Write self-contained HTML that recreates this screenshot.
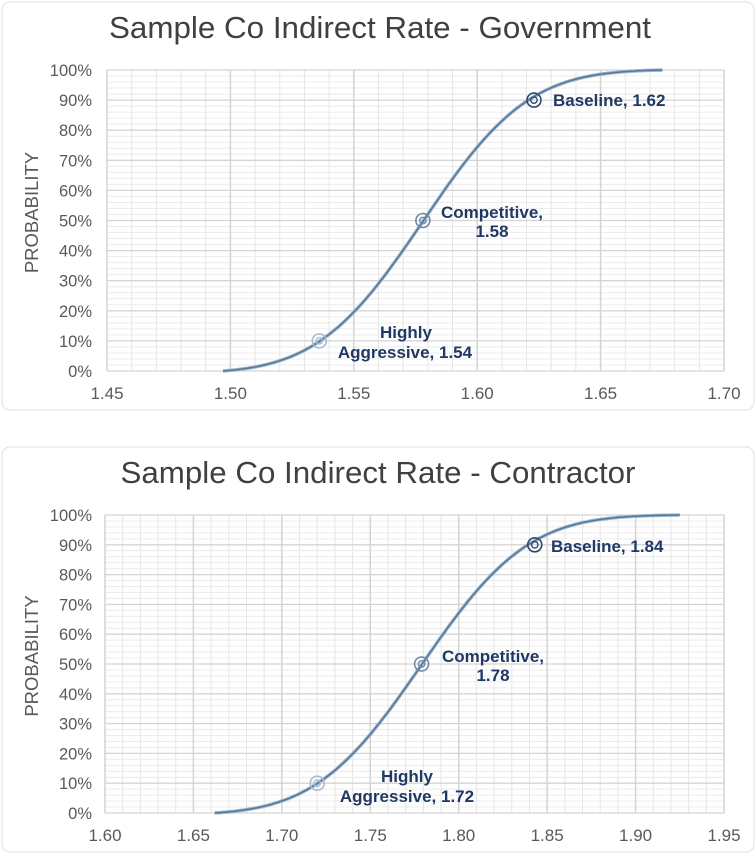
<!DOCTYPE html>
<html><head><meta charset="utf-8"><style>
body{margin:0;background:#fff;width:756px;height:856px;overflow:hidden}
svg{display:block}
text{font-family:"Liberation Sans",sans-serif}
</style></head><body>
<svg id="s" width="756" height="856" xmlns="http://www.w3.org/2000/svg"></svg>
<script>
const S=document.getElementById('s');let h='';
function erf(x){const t=1/(1+0.3275911*Math.abs(x));const y=1-(((((1.061405429*t-1.453152027)*t)+1.421413741)*t-0.284496736)*t+0.254829592)*t*Math.exp(-x*x);return x>=0?y:-y;}
function cdf(x,m,s){return 0.5*(1+erf((x-m)/(s*Math.SQRT2)));}
function chart(o){
 h+=`<rect x="${o.cx}" y="${o.cy}" width="752" height="${o.ch}" rx="8" fill="#fff" stroke="#e0e0e0"/>`;
 h+=`<text x="${o.tx}" y="${o.ty}" font-size="31" fill="#404040" text-anchor="middle" textLength="${o.tl}" lengthAdjust="spacingAndGlyphs">${o.title}</text>`;
 const X=v=>o.x0+(v-o.v0)/(o.v1-o.v0)*(o.x1-o.x0), Y=p=>o.y1-(p)*(o.y1-o.y0);
 for(let i=1;i<50;i++){if(i%5)h+=`<line x1="${o.x0}" x2="${o.x1}" y1="${Y(i/50)}" y2="${Y(i/50)}" stroke="#ececec" stroke-width="1"/>`;}
 const n=Math.round((o.v1-o.v0)/0.01);
 for(let i=1;i<n;i++){if(i%5)h+=`<line y1="${o.y0}" y2="${o.y1}" x1="${X(o.v0+i*0.01)}" x2="${X(o.v0+i*0.01)}" stroke="#e6e6e6"/>`;}
 for(let i=0;i<=10;i++){h+=`<line x1="${o.x0}" x2="${o.x1}" y1="${Y(i/10)}" y2="${Y(i/10)}" stroke="#d4d4d4" stroke-width="1.3"/>`;
  h+=`<text x="92" y="${Y(i/10)+6}" font-size="16.5" fill="#595959" text-anchor="end">${i*10}%</text>`;}
 for(let i=0;i<=n;i+=5){const v=o.v0+i*0.01;h+=`<line y1="${o.y0}" y2="${o.y1}" x1="${X(v)}" x2="${X(v)}" stroke="#d4d4d4" stroke-width="1.5"/>`;
  h+=`<text x="${X(v)}" y="${o.y1+28}" font-size="17" fill="#595959" text-anchor="middle">${v.toFixed(2)}</text>`;}
 h+=`<text transform="translate(38 ${(o.y0+o.y1)/2-8}) rotate(-90)" font-size="18.5" fill="#595959" text-anchor="middle">PROBABILITY</text>`;
 let d='';const base=cdf(o.a,o.m,o.s),top=cdf(o.b,o.m,o.s);
 for(let i=0;i<=200;i++){const v=o.a+(o.b-o.a)*i/200;const p=(cdf(v,o.m,o.s)-base)/(top-base);d+=(i?'L':'M')+X(v).toFixed(1)+' '+Y(p).toFixed(1);}
 h+=`<path d="${d}" fill="none" stroke="#9fb6cc" stroke-width="3.5"/><path d="${d}" fill="none" stroke="#55779a" stroke-width="1.5"/>`;
 o.pts.forEach(([v,p,c])=>{h+=`<circle cx="${X(v)}" cy="${Y(p)}" r="7" fill="none" stroke="${c}" stroke-width="1.6"/><circle cx="${X(v)}" cy="${Y(p)}" r="3.2" fill="none" stroke="${c}" stroke-width="1.4"/>`;});
 o.labels.forEach(([x,y,t,a])=>{h+=`<text x="${x}" y="${y}" font-size="17" font-weight="bold" fill="#1f3864" text-anchor="${a}">${t}</text>`;});
}
chart({cx:2,cy:2,ch:408,tx:380,tl:542,ty:38,title:'Sample Co Indirect Rate - Government',x0:107,x1:724,y0:70,y1:371,v0:1.45,v1:1.70,m:1.578,s:0.0335,a:1.497,b:1.675,
 pts:[[1.536,0.1,'#a9bdd2'],[1.578,0.5,'#6f8aa8'],[1.623,0.9,'#2d4a6e']],
 labels:[[553,106,'Baseline, 1.62','start'],[492,218,'Competitive,','middle'],[492,237,'1.58','middle'],[406,338,'Highly','middle'],[405,358,'Aggressive, 1.54','middle']]});
chart({cx:2,cy:447,ch:405,tx:378,tl:515,ty:483,title:'Sample Co Indirect Rate - Contractor',x0:105,x1:724,y0:515,y1:813,v0:1.60,v1:1.95,m:1.779,s:0.047,a:1.662,b:1.925,
 pts:[[1.720,0.1,'#a9bdd2'],[1.779,0.5,'#6f8aa8'],[1.843,0.9,'#2d4a6e']],
 labels:[[551,552,'Baseline, 1.84','start'],[493,662,'Competitive,','middle'],[493,681,'1.78','middle'],[407,782,'Highly','middle'],[407,802,'Aggressive, 1.72','middle']]});
S.innerHTML=h;
</script>
</body></html>
